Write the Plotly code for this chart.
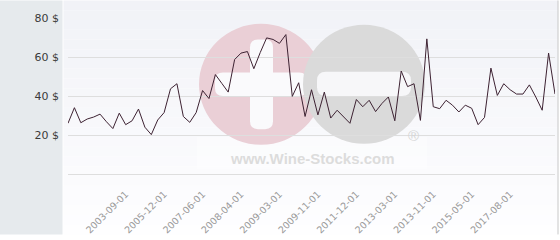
import plotly.graph_objects as go

# ---- data ----
prices = [26, 34, 26.3, 28.2, 29.2, 30.7, 26.8, 23.3, 31.2, 25.3, 27.3, 33.3, 24,
          20.2, 27.7, 31.5, 43.7, 46.3, 29.5, 26.5, 31.5, 42.8, 38.7, 51, 46.5, 42,
          58.7, 62, 62.8, 54, 62.3, 69.8, 69, 67, 71.5, 39.8, 46.8, 29.5, 43.2, 30.3,
          42, 28.7, 32.7, 29.4, 26, 38.2, 34.5, 37.8, 32, 36.2, 39.5, 27.3, 52.8,
          44.8, 46.3, 27.5, 69.3, 34.5, 33.5, 37.8, 35.3, 31.8, 35.3, 33.7, 25.3,
          29, 54.3, 40.3, 46.3, 43.2, 41, 41, 45.7, 39.5, 32.7, 62, 41]
tick_labels = ["2003-09-01", "2005-12-01", "2007-06-01", "2008-04-01", "2009-03-01",
               "2009-11-01", "2011-12-01", "2013-03-01", "2013-11-01", "2015-05-01",
               "2017-08-01"]
tick_index = [9, 15, 21, 27, 33, 39, 45, 51, 57, 63, 69]
y_ticks = [0, 20, 40, 60, 80]
y_ticktext = ["", "20 $", "40 $", "60 $", "80 $"]

# ---- layout geometry (pixels) ----
WIDTH, HEIGHT = 560, 240
L, R, T, B = 68, 555, 18, 178
PW, PH = R - L, B - T


def px(x):
    return (x - L) / PW


def py(y):
    return (B - y) / PH


def rrect(x0, y0, x1, y1, r, color):
    pts = []
    path = "M %f,%f " % (px(x0 + r), py(y0))
    path += "L %f,%f " % (px(x1 - r), py(y0))
    path += "Q %f,%f %f,%f " % (px(x1), py(y0), px(x1), py(y0 + r))
    path += "L %f,%f " % (px(x1), py(y1 - r))
    path += "Q %f,%f %f,%f " % (px(x1), py(y1), px(x1 - r), py(y1))
    path += "L %f,%f " % (px(x0 + r), py(y1))
    path += "Q %f,%f %f,%f " % (px(x0), py(y1), px(x0), py(y1 - r))
    path += "L %f,%f " % (px(x0), py(y0 + r))
    path += "Q %f,%f %f,%f Z" % (px(x0), py(y0), px(x0 + r), py(y0))
    return dict(type="path", xref="paper", yref="paper", path=path, fillcolor=color,
                line_width=0, layer="below")


shapes = []
# left grey panel
shapes.append(dict(type="rect", xref="paper", yref="paper", x0=px(0), x1=px(62.5),
                   y0=py(HEIGHT), y1=py(0), fillcolor="#e6eaed", line_width=0, layer="below"))
# gradient background bands
n_bands = 24
top_c = (241, 242, 247)
bot_c = (254, 254, 255)
for i in range(n_bands):
    t = i / (n_bands - 1)
    c = tuple(round(top_c[k] + (bot_c[k] - top_c[k]) * t) for k in range(3))
    y0 = HEIGHT * i / n_bands
    y1 = HEIGHT * (i + 1) / n_bands
    shapes.append(dict(type="rect", xref="paper", yref="paper", x0=px(63.5), x1=px(558),
                       y0=py(y1), y1=py(y0), fillcolor="rgb(%d,%d,%d)" % c,
                       line_width=0, layer="below"))
# right border
shapes.append(dict(type="line", xref="paper", yref="paper", x0=px(558), x1=px(558),
                   y0=py(HEIGHT), y1=py(0), line=dict(color="#c8c8c8", width=1), layer="below"))

# watermark: faint white box
shapes.append(dict(type="rect", xref="paper", yref="paper", x0=px(197), x1=px(427),
                   y0=py(173), y1=py(140), fillcolor="rgba(255,255,255,0.35)",
                   line_width=0, layer="below"))
# pink circle
pcx, pcy, pr = 261, 86, 62
shapes.append(dict(type="circle", xref="paper", yref="paper", x0=px(pcx - pr), x1=px(pcx + pr),
                   y0=py(pcy + pr), y1=py(pcy - pr), fillcolor="#eacfd6", line_width=0,
                   layer="below"))
# plus sign
shapes.append(rrect(pcx - 46, pcy - 12, pcx + 46, pcy + 12, 8, "#fafafc"))
shapes.append(rrect(pcx - 11, pcy - 46, pcx + 12, pcy + 46, 8, "#fafafc"))
# grey circle
gcx, gcy, gr = 364, 86, 61
shapes.append(dict(type="circle", xref="paper", yref="paper", x0=px(gcx - gr), x1=px(gcx + gr),
                   y0=py(gcy + gr), y1=py(gcy - gr), fillcolor="#dadada", line_width=0,
                   layer="below"))
# minus sign
shapes.append(rrect(gcx - 47, gcy - 13, gcx + 47, gcy + 12, 9, "#f7f7f9"))

annotations = [
    dict(text="<b>www.Wine-Stocks.com</b>", xref="paper", yref="paper", x=px(312), y=py(162),
         showarrow=False, font=dict(family="Liberation Sans", size=15, color="#dcdcdc"),
         xanchor="center", yanchor="middle"),
    dict(text="®", xref="paper", yref="paper", x=px(413), y=py(139), showarrow=False,
         font=dict(family="Liberation Sans", size=15, color="#d6d6d6"),
         xanchor="center", yanchor="middle"),
]

fig = go.Figure()
fig.add_trace(go.Scatter(x=list(range(len(prices))), y=prices, mode="lines",
                         line=dict(color="#3d2232", width=1), hoverinfo="y"))

fig.update_layout(
    width=WIDTH, height=HEIGHT,
    margin=dict(l=L, r=WIDTH - R, t=T, b=HEIGHT - B, pad=0),
    paper_bgcolor="#ffffff", plot_bgcolor="rgba(0,0,0,0)",
    showlegend=False, shapes=shapes, annotations=annotations,
    xaxis=dict(range=[0, len(prices) - 1], tickmode="array", tickvals=tick_index,
               ticktext=tick_labels, tickangle=-45, showgrid=False, zeroline=False,
               showline=True, linecolor="#dedede", linewidth=1, ticks="",
               ticklabelstandoff=10,
               tickfont=dict(family="DejaVu Sans", size=9.5, color="#999999")),
    yaxis=dict(range=[0, 80], tickmode="array", tickvals=y_ticks, ticktext=y_ticktext,
               showgrid=True, gridcolor="#dedede", gridwidth=1, zeroline=False,
               showline=False, ticks="", ticklabelstandoff=8,
               tickfont=dict(family="DejaVu Sans", size=11, color="#3a3a3a")),
)

fig.write_html("out.html")
